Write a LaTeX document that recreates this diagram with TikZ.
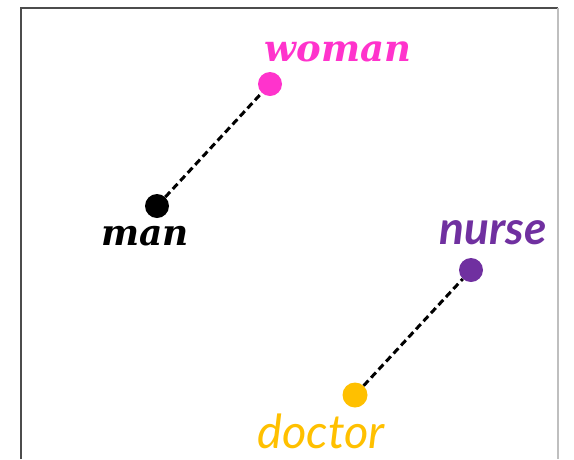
\documentclass[tikz,border=0pt]{standalone}
\usepackage{fontspec}
\newfontfamily\pairserif{DejaVu Serif}
\newfontfamily\pairsans{Lato}
\definecolor{womancol}{RGB}{255,51,204}
\definecolor{nursecol}{RGB}{112,48,160}
\definecolor{doctorcol}{RGB}{255,192,0}
\begin{document}
\begin{tikzpicture}[x=1pt,y=-1pt,
  wordpt/.style={circle,inner sep=0pt,minimum size=24pt},
  link/.style={draw=black,line width=3pt,dash pattern=on 7pt off 4pt},
  serifword/.style={font=\pairserif\bfseries\itshape\fontsize{37}{37}\selectfont,inner sep=0pt},
  sansword/.style={font=\pairsans\itshape\fontsize{47}{47}\selectfont,inner sep=0pt}]
  \useasboundingbox (0,0) rectangle (574,459);
  % frame
  \draw[line width=2pt,black!70] (21,459) -- (21,8) -- (558,8);
  \draw[line width=1.2pt,black!25] (558,8) -- (558,459);
  % word points
  \node[wordpt,fill=womancol] (woman) at (270,84) {};
  \node[wordpt,fill=black] (man) at (157,206) {};
  \node[wordpt,fill=nursecol] (nurse) at (471,270) {};
  \node[wordpt,fill=doctorcol,minimum size=25pt] (doctor) at (355,395) {};
  % offsets between pairs
  \draw[link] (man) -- (woman);
  \draw[link] (doctor) -- (nurse);
  % labels
  \node[serifword,text=womancol,anchor=base] (womanlbl) at (338,61) {woman};
  \node[serifword,text=black,anchor=base,font=\pairserif\bfseries\itshape\fontsize{36}{36}\selectfont] (manlbl) at (145,245) {man};
  \node[sansword,text=nursecol,anchor=base,font=\pairsans\bfseries\itshape\fontsize{46}{46}\selectfont] (nurselbl) at (493,244) {nurse};
  \node[sansword,text=doctorcol,anchor=base] (doctorlbl) at (321,448) {doctor};
\end{tikzpicture}
\end{document}
